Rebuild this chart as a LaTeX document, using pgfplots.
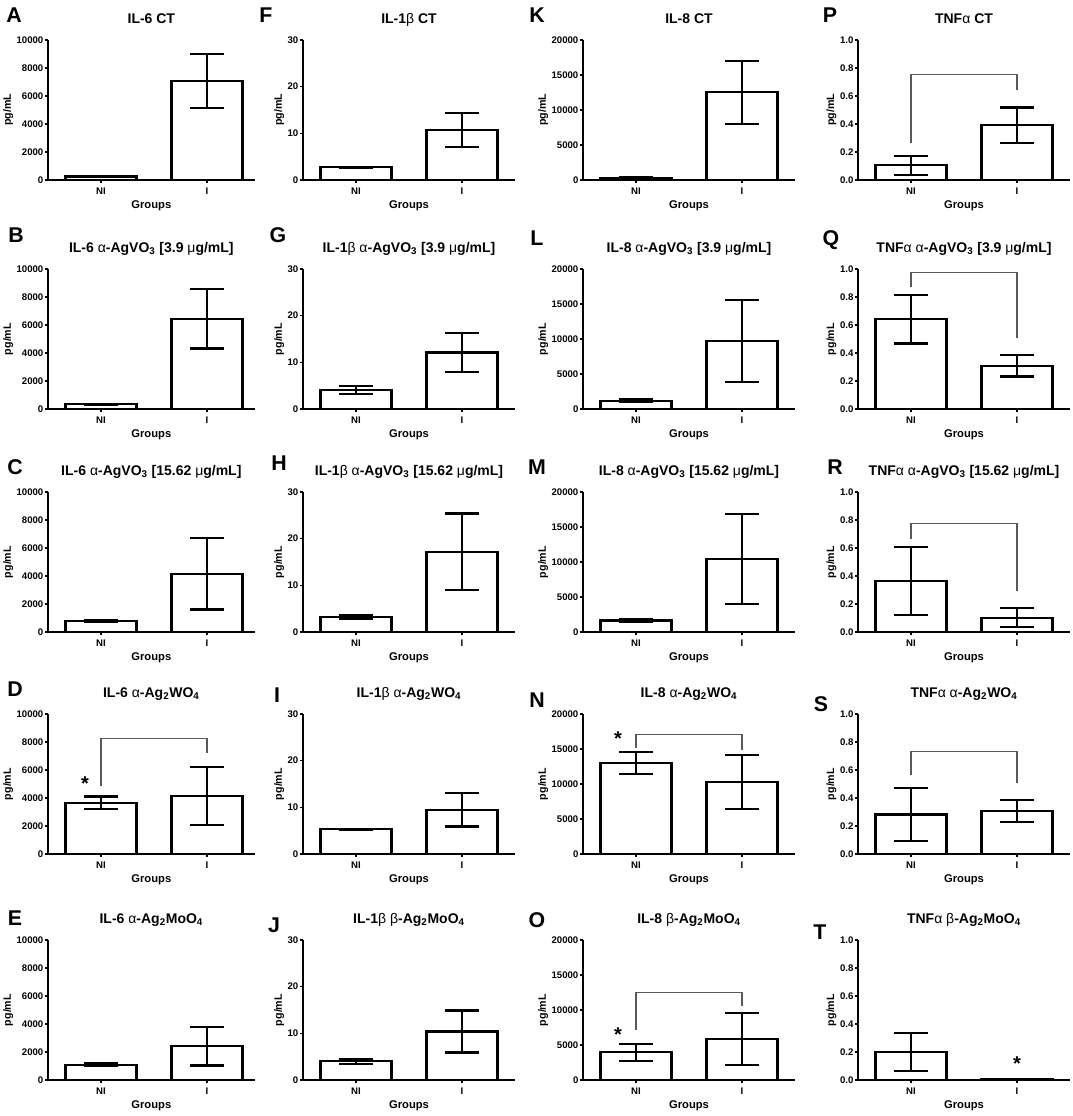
\documentclass[border=0pt]{standalone}
\usepackage{fontspec}
\setmainfont{Liberation Sans}
\usepackage{pgfplots}
\pgfplotsset{compat=1.18}

\def\u{0.75pt}
\newcommand{\ga}{{\mdseries α}}
\newcommand{\gb}{{\mdseries β}}
\newcommand{\gm}{{\mdseries μ}}
\newcommand{\vo}{\ga-AgVO\textsubscript{3}}
\newcommand{\wo}{\ga-Ag\textsubscript{2}WO\textsubscript{4}}
\newcommand{\mo}{-Ag\textsubscript{2}MoO\textsubscript{4}}

\pgfplotsset{
  panel/.style 2 args={
    at={(#1*\u,-#2*\u)}, anchor=south west,
    scale only axis, width=159pt, height=105pt,
    ybar, xmin=-0.5, xmax=1.5, ymin=0,
    axis x line*=bottom, axis y line*=left,
    axis line style={-, line width=0.9pt},
    xtick={0,1}, xticklabels={NI,I},
    tick align=outside, major tick length=2.3pt,
    tick style={black, line width=0.8pt},
    tick label style={font=\bfseries\fontsize{7.2}{8}\selectfont},
    yticklabel style={inner sep=1pt},
    scaled y ticks=false,
    /pgf/number format/assume math mode=true,
    /pgf/number format/set thousands separator={},
    xlabel={Groups}, ylabel={pg/mL},
    xlabel style={font=\bfseries\fontsize{8.4}{10}\selectfont, yshift=2pt},
    ylabel style={font=\bfseries\fontsize{8}{10}\selectfont, inner sep=1.5pt},
    title style={font=\bfseries\fontsize{10.5}{12}\selectfont,
      at={(0.5,1)}, anchor=base, yshift=6.5pt},
    clip=false,
  },
  col1/.style={xmax=1.45, width=155pt},
  il6/.style={ymax=10000, ytick={0,2000,4000,6000,8000,10000}},
  il1/.style={ymax=30, ytick={0,10,20,30}},
  il8/.style={ymax=20000, ytick={0,5000,10000,15000,20000}},
  tnf/.style={ymax=1, ytick={0,0.2,0.4,0.6,0.8,1},
    yticklabel style={/pgf/number format/.cd, fixed, fixed zerofill, precision=1}},
  bars/.style={fill=white, draw=black, line width=1.6pt, bar width=0.67,
    error bars/.cd, y dir=both, y explicit,
    error bar style={line width=1.6pt, black},
    error mark options={line width=1.6pt, mark size=13pt, rotate=90}},
}
\tikzset{
  letter/.style={font=\bfseries\fontsize{16}{18}\selectfont, inner sep=0pt},
  bracket/.style={draw=black!65, line width=0.8pt},
  star/.style={font=\bfseries\fontsize{15}{16}\selectfont, anchor=base, yshift=-8.5pt, inner sep=0pt},
}

\begin{document}
\begin{tikzpicture}
\path[use as bounding box] (0,0) rectangle (1072*\u,-1116*\u);

% ---- column 1: IL-6
\begin{axis}[panel={48}{180}, col1, il6, title={IL-6 CT}]
\addplot[bars] coordinates {(0,250) +- (0,60) (1,7070) +- (0,1930)};
\end{axis}
\begin{axis}[panel={48}{409}, col1, il6, title={IL-6 \vo{} [3.9 \gm g/mL]}]
\addplot[bars] coordinates {(0,340) +- (0,40) (1,6450) +- (0,2130)};
\end{axis}
\begin{axis}[panel={48}{632}, col1, il6, title={IL-6 \vo{} [15.62 \gm g/mL]}]
\addplot[bars] coordinates {(0,780) +- (0,80) (1,4150) +- (0,2540)};
\end{axis}
\begin{axis}[panel={48}{854}, col1, il6, title={IL-6 \wo}]
\addplot[bars] coordinates {(0,3660) +- (0,450) (1,4130) +- (0,2080)};
\draw[bracket] (axis cs:0,4880) -- (axis cs:0,8280) -- (axis cs:1,8280) -- (axis cs:1,7230);
\node[star] at (axis cs:-0.15,5350) {*};
\end{axis}
\begin{axis}[panel={48}{1080}, col1, il6, title={IL-6 \ga\mo}]
\addplot[bars] coordinates {(0,1100) +- (0,100) (1,2420) +- (0,1380)};
\end{axis}

% ---- column 2: IL-1beta
\begin{axis}[panel={303}{180}, il1, title={IL-1\gb{} CT}]
\addplot[bars] coordinates {(0,2.7) +- (0,0.15) (1,10.7) +- (0,3.7)};
\end{axis}
\begin{axis}[panel={303}{409}, il1, title={IL-1\gb{} \vo{} [3.9 \gm g/mL]}]
\addplot[bars] coordinates {(0,4.1) +- (0,0.8) (1,12.1) +- (0,4.1)};
\end{axis}
\begin{axis}[panel={303}{632}, il1, title={IL-1\gb{} \vo{} [15.62 \gm g/mL]}]
\addplot[bars] coordinates {(0,3.3) +- (0,0.4) (1,17.2) +- (0,8.2)};
\end{axis}
\begin{axis}[panel={303}{854}, il1, title={IL-1\gb{} \wo}]
\addplot[bars] coordinates {(0,5.3) +- (0,0.1) (1,9.5) +- (0,3.6)};
\end{axis}
\begin{axis}[panel={303}{1080}, il1, title={IL-1\gb{} \gb\mo}]
\addplot[bars] coordinates {(0,4.0) +- (0,0.5) (1,10.4) +- (0,4.5)};
\end{axis}

% ---- column 3: IL-8
\begin{axis}[panel={583}{180}, il8, title={IL-8 CT}]
\addplot[bars] coordinates {(0,330) +- (0,80) (1,12550) +- (0,4500)};
\end{axis}
\begin{axis}[panel={583}{409}, il8, title={IL-8 \vo{} [3.9 \gm g/mL]}]
\addplot[bars] coordinates {(0,1200) +- (0,200) (1,9710) +- (0,5840)};
\end{axis}
\begin{axis}[panel={583}{632}, il8, title={IL-8 \vo{} [15.62 \gm g/mL]}]
\addplot[bars] coordinates {(0,1650) +- (0,200) (1,10420) +- (0,6430)};
\end{axis}
\begin{axis}[panel={583}{854}, il8, title={IL-8 \wo}]
\addplot[bars] coordinates {(0,13000) +- (0,1550) (1,10290) +- (0,3830)};
\draw[bracket] (axis cs:0,15120) -- (axis cs:0,17130) -- (axis cs:1,17130) -- (axis cs:1,14880);
\node[star] at (axis cs:-0.17,17100) {*};
\end{axis}
\begin{axis}[panel={583}{1080}, il8, title={IL-8 \gb\mo}]
\addplot[bars] coordinates {(0,3950) +- (0,1240) (1,5860) +- (0,3670)};
\draw[bracket] (axis cs:0,7140) -- (axis cs:0,12520) -- (axis cs:1,12520) -- (axis cs:1,10620);
\node[star] at (axis cs:-0.17,7190) {*};
\end{axis}

% ---- column 4: TNFalpha
\begin{axis}[panel={858}{180}, tnf, title={TNF\ga{} CT}]
\addplot[bars] coordinates {(0,0.105) +- (0,0.068) (1,0.39) +- (0,0.128)};
\draw[bracket] (axis cs:0,0.265) -- (axis cs:0,0.754) -- (axis cs:1,0.754) -- (axis cs:1,0.645);
\end{axis}
\begin{axis}[panel={858}{409}, tnf, title={TNF\ga{} \vo{} [3.9 \gm g/mL]}]
\addplot[bars] coordinates {(0,0.64) +- (0,0.172) (1,0.308) +- (0,0.076)};
\draw[bracket] (axis cs:0,0.874) -- (axis cs:0,0.976) -- (axis cs:1,0.976) -- (axis cs:1,0.508);
\end{axis}
\begin{axis}[panel={858}{632}, tnf, title={TNF\ga{} \vo{} [15.62 \gm g/mL]}]
\addplot[bars] coordinates {(0,0.363) +- (0,0.243) (1,0.102) +- (0,0.068)};
\draw[bracket] (axis cs:0,0.667) -- (axis cs:0,0.773) -- (axis cs:1,0.773) -- (axis cs:1,0.294);
\end{axis}
\begin{axis}[panel={858}{854}, tnf, title={TNF\ga{} \wo}]
\addplot[bars] coordinates {(0,0.282) +- (0,0.19) (1,0.305) +- (0,0.079)};
\draw[bracket] (axis cs:0,0.566) -- (axis cs:0,0.729) -- (axis cs:1,0.729) -- (axis cs:1,0.506);
\end{axis}
\begin{axis}[panel={858}{1080}, tnf, title={TNF\ga{} \gb\mo}]
\addplot[bars] coordinates {(0,0.201) +- (0,0.135) (1,0.005) +- (0,0.002)};
\node[star] at (axis cs:1,0.15) {*};
\end{axis}

% ---- panel letters
\foreach \l/\x/\y in {A/14/15, B/16/235, C/15/467, D/15/689, E/15/918,
                      F/266/15, G/278/235, H/279/463, I/277/695, J/274/925,
                      K/537/15, L/537/238, M/537/467, N/537/700, O/537/920,
                      P/830/15, Q/831/240, R/835/467, S/821/704, T/820/932}
  \node[letter] at (\x*\u,-\y*\u) {\l};
\end{tikzpicture}
\end{document}
